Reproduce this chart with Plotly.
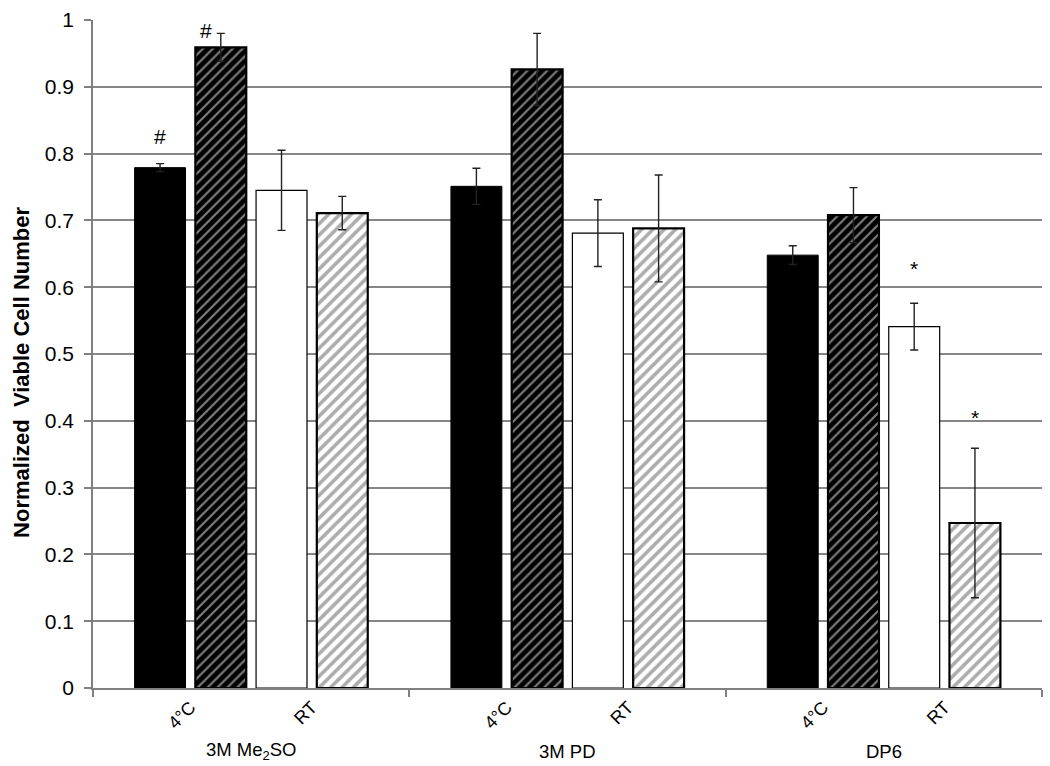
import plotly.graph_objects as go

groups = ["3M Me<sub>2</sub>SO", "3M PD", "DP6"]
temp_labels = ["4°C", "RT"]
series_names = ["4°C solid", "4°C hatched", "RT open", "RT hatched"]

black_vals = [0.779, 0.751, 0.648]
black_err = [0.006, 0.027, 0.014]
bhatch_vals = [0.959, 0.926, 0.708]
bhatch_err = [0.021, 0.054, 0.041]
white_vals = [0.745, 0.681, 0.541]
white_err = [0.060, 0.050, 0.035]
ghatch_vals = [0.711, 0.688, 0.247]
ghatch_err = [0.025, 0.080, 0.112]

marks = [
    # (series index, group index, symbol, y)
    (0, 0, "#", 0.826),
    (1, 0, "#", 0.985),
    (2, 2, "*", 0.628),
    (3, 2, "*", 0.405),
]

pitch = 0.192
bar_w = 0.161
offsets = [-1.5 * pitch, -0.5 * pitch, 0.5 * pitch, 1.5 * pitch]
centers = [i + 0.5 for i in range(len(groups))]

styles = [
    dict(color="black", line=dict(color="black", width=1)),
    dict(color="black", line=dict(color="black", width=2.2),
         pattern=dict(shape="/", fgcolor="white", bgcolor="black", size=7, solidity=0.3)),
    dict(color="white", line=dict(color="black", width=1.2)),
    dict(color="white", line=dict(color="black", width=2.2),
         pattern=dict(shape="/", fgcolor="#5a5a5a", bgcolor="white", size=8, solidity=0.45)),
]
vals = [black_vals, bhatch_vals, white_vals, ghatch_vals]
errs = [black_err, bhatch_err, white_err, ghatch_err]

fig = go.Figure()
for s in range(4):
    fig.add_trace(go.Bar(
        name=series_names[s],
        x=[c + offsets[s] for c in centers],
        y=vals[s],
        width=bar_w,
        marker=styles[s],
        error_y=dict(type="data", array=errs[s], color="#222222", thickness=1.4, width=4),
        showlegend=False,
    ))

tickvals = []
ticktext = []
for c in centers:
    tickvals += [c + (offsets[0] + offsets[1]) / 2, c + (offsets[2] + offsets[3]) / 2]
    ticktext += temp_labels

fig.update_layout(
    width=1050, height=766,
    margin=dict(l=93, r=8, t=14, b=78),
    paper_bgcolor="white", plot_bgcolor="white",
    barmode="overlay",
    font=dict(family="Liberation Sans, Arial, sans-serif", color="black"),
    xaxis=dict(
        range=[0, len(groups)],
        tickmode="array", tickvals=tickvals, ticktext=ticktext,
        tickangle=-45, ticks="", tickfont=dict(size=18),
        showgrid=False, zeroline=False,
        showline=True, linecolor="#808080", linewidth=1.5,
        minor=dict(tickmode="array", tickvals=list(range(len(groups) + 1)),
                   ticks="outside", ticklen=7, tickcolor="#808080", tickwidth=1.5, showgrid=False),
    ),
    yaxis=dict(
        range=[0, 1], dtick=0.1, tick0=0,
        showgrid=True, gridcolor="#868686", gridwidth=1.5,
        zeroline=False,
        showline=True, linecolor="#808080", linewidth=1.5,
        ticks="outside", ticklen=7, tickcolor="#808080", tickwidth=1.5,
        tickfont=dict(size=21), ticklabelstandoff=6,
    ),
)

# y axis title
fig.add_annotation(
    text="<b>Normalized  Viable Cell Number</b>", textangle=-90,
    xref="paper", yref="paper", x=-0.076, y=0.473, xanchor="center", yanchor="middle",
    showarrow=False, font=dict(size=22),
)

# group labels
for c, g in zip(centers, groups):
    fig.add_annotation(
        text=g, xref="x", yref="paper", x=c, y=-0.095,
        xanchor="center", yanchor="middle", showarrow=False, font=dict(size=18.5),
    )

# significance marks
for s, g, sym, yv in marks:
    xs = -15 if s == 1 else 0
    fig.add_annotation(
        text=sym, xref="x", yref="y", x=centers[g] + offsets[s], y=yv,
        xshift=xs, showarrow=False, font=dict(size=21), yanchor="middle",
    )

fig.write_html("out.html", config={"displayModeBar": False},
               post_script="document.body.style.margin='0';document.body.style.padding='0';")
